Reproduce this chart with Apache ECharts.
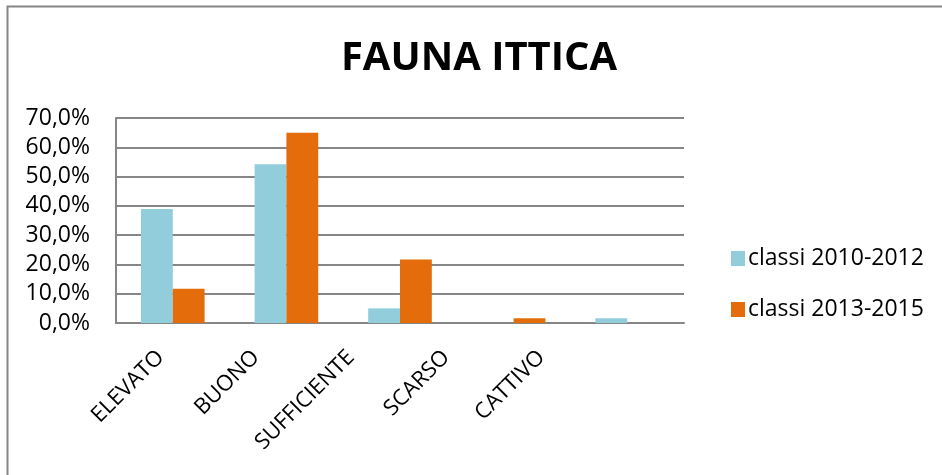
<!DOCTYPE html>
<html lang="it">
<head>
<meta charset="UTF-8">
<title>Fauna ittica</title>
<script src="https://cdn.jsdelivr.net/npm/echarts@6/dist/echarts.min.js"></script>
<style>
  html, body { margin: 0; padding: 0; background: #fff; }
</style>
</head>
<body>
<div id="main" style="width: 942px;height: 475px"></div>
<script type="text/javascript">
  var categories = ['ELEVATO', 'BUONO', 'SUFFICIENTE', 'SCARSO', 'CATTIVO'];
  var classi2010 = [38.9, 54.2, 5.0, 0, 1.6];
  var classi2013 = [11.7, 65.0, 21.7, 1.6, 0];
  var seriesNames = ['classi 2010-2012', 'classi 2013-2015'];

  var font = 'Open Sans';
  var myChart = echarts.init(document.getElementById('main'));
  var option = {
    animation: false,
    title: {
      text: 'FAUNA ITTICA',
      left: 474,
      textAlign: 'center',
      top: 34,
      textStyle: {fontFamily: font, fontSize: 40, fontWeight: 'bold', color: '#000'}
    },
    graphic: [{
      type: 'rect',
      shape: {x: 7.5, y: 6.5, width: 1000, height: 600},
      style: {fill: null, stroke: '#868686', lineWidth: 2},
      silent: true
    }],
    legend: {
      orient: 'vertical',
      left: 726,
      top: 242,
      itemWidth: 14,
      itemHeight: 15,
      itemGap: 28,
      icon: 'rect',
      textStyle: {fontFamily: font, fontSize: 23, color: '#000', padding: [0, 0, 0, -2]},
      data: seriesNames
    },
    grid: [
      {left: 116, top: 118, width: 568, height: 205, containLabel: false},
      // the slanted labels in the original are packed tighter than the bars
      {left: 113, top: 118, width: 476, height: 205, containLabel: false}
    ],
    xAxis: [{
      type: 'category',
      data: categories,
      axisLine: {lineStyle: {color: '#868686', width: 2}},
      axisTick: {show: false},
      axisLabel: {show: false}
    }, {
      type: 'category',
      gridIndex: 1,
      data: categories,
      axisLine: {show: false},
      axisTick: {show: false},
      axisLabel: {
        rotate: 45, interval: 0, margin: 31,
        fontFamily: font, fontSize: 22, color: '#000'
      }
    }],
    yAxis: [{
      type: 'value',
      min: 0, max: 70, interval: 10,
      axisLine: {show: true, lineStyle: {color: '#868686', width: 2}},
      axisTick: {show: false},
      splitLine: {lineStyle: {color: '#868686', width: 2}},
      axisLabel: {
        margin: 26,
        fontFamily: font, fontSize: 23, color: '#000',
        formatter: function (v) { return v.toFixed(1).replace('.', ',') + '%'; }
      }
    }, {
      type: 'value',
      gridIndex: 1,
      show: false
    }],
    series: [
      {name: seriesNames[0], type: 'bar', data: classi2010, barGap: '0%', barCategoryGap: '44%',
        itemStyle: {color: '#92CDDC'}},
      {name: seriesNames[1], type: 'bar', data: classi2013, barGap: '0%', barCategoryGap: '44%',
        itemStyle: {color: '#E46C0A'}}
    ]
  };
  myChart.setOption(option);
</script>
</body>
</html>
